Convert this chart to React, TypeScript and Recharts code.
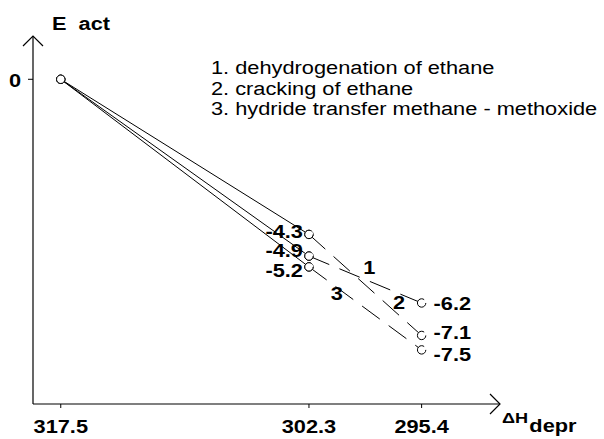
import { LineChart, Line, XAxis, YAxis, LabelList, ReferenceDot, Legend } from "recharts";

/* data */
const reactions = [
  "dehydrogenation of ethane",
  "cracking of ethane",
  "hydride transfer methane - methoxide",
];
const lineNumbers = ["1", "2", "3"];
const xTicks = [317.5, 302.3, 295.4];   // ΔH_depr
const yTicks = [0];
const eStart = [0, 0, 0];
const eMid = [-4.9, -4.3, -5.2];
const eEnd = [-6.2, -7.1, -7.5];

/* label placement (styling only) */
const midNudge = [-3, 0, 6];
const endNudge = [0, -3, 4];
const numberAt = [0.5, 0.8, 0.3];
const numberOffset = [[4, 6], [0, 6], [-6, 20]];

const FONT = "'Liberation Sans', Arial, sans-serif";
const SX = 1.21; // the scan is stretched sideways

function Txt({ x, y, anchor = "start", size = 18, bold = true, children }: any) {
  return (
    <text
      transform={`translate(${x},${y}) scale(${SX},1)`}
      textAnchor={anchor}
      fontFamily={FONT}
      fontWeight={bold ? "bold" : "normal"}
      fontSize={size}
      fill="#000"
      style={{ whiteSpace: "pre" }}
    >
      {children}
    </text>
  );
}

const solid = reactions.map((_, i) => [
  { x: xTicks[0], y: eStart[i] },
  { x: xTicks[1], y: eMid[i] },
]);
const dashed = reactions.map((_, i) => [
  { x: xTicks[1], y: eMid[i] },
  { x: xTicks[2], y: eEnd[i] },
]);

const dotStyle = { r: 4.2, fill: "#fff", stroke: "#000", strokeWidth: 1 };

const XTick = (p: any) => (
  <Txt x={p.x} y={p.y + 23} anchor="middle">{p.payload.value}</Txt>
);
const YTick = (p: any) => (
  <Txt x={21} y={p.y + 8} anchor="end">{p.payload.value}</Txt>
);

function LegendBox() {
  return (
    <div
      style={{
        fontFamily: FONT,
        fontSize: 18,
        lineHeight: "20.5px",
        whiteSpace: "nowrap",
        transform: `scaleX(${SX})`,
        transformOrigin: "left top",
        color: "#000",
      }}
    >
      {reactions.map((r, i) => (
        <div key={r}>{`${lineNumbers[i]}. ${r}`}</div>
      ))}
    </div>
  );
}

export default function App() {
  return (
    <div style={{ position: "absolute", left: 0, top: 0, width: 604, height: 439, background: "#fff" }}>
      <svg width={0} height={0} style={{ position: "absolute" }}>
        <defs>
          <marker
            id="arrowHead"
            viewBox="0 0 12 22"
            refX={11}
            refY={11}
            markerWidth={12}
            markerHeight={22}
            markerUnits="userSpaceOnUse"
            orient="auto-start-reverse"
          >
            <path d="M1,1 L11,11 L1,21" fill="none" stroke="#000" strokeWidth={1.2} />
          </marker>
        </defs>
      </svg>
      <LineChart width={604} height={439} margin={{ top: 36, right: 104, bottom: 0, left: 0 }}>
        <XAxis
          type="number"
          dataKey="x"
          domain={[290.6, 319.2]}
          allowDataOverflow
          reversed
          ticks={xTicks}
          interval={0}
          height={35}
          tickSize={4}
          tickLine={{ stroke: "#000" }}
          axisLine={{ stroke: "#000", strokeWidth: 1.2, markerEnd: "url(#arrowHead)" }}
          tick={<XTick />}
          label={{
            content: ({ viewBox }: any) => (
              <text
                transform={`translate(${viewBox.x + viewBox.width + 2},${viewBox.y + 19}) scale(${SX},1)`}
                fontFamily={FONT}
                fontWeight="bold"
                fill="#000"
              >
                <tspan fontSize={15}>ΔH</tspan>
                <tspan fontSize={18} dy={9} dx={1}>depr</tspan>
              </text>
            ),
          }}
        />
        <YAxis
          type="number"
          dataKey="y"
          domain={[-9, 1.2]}
          allowDataOverflow
          ticks={yTicks}
          width={33}
          tickSize={5}
          tickLine={{ stroke: "#000" }}
          axisLine={{ stroke: "#000", strokeWidth: 1.2, markerStart: "url(#arrowHead)" }}
          tick={<YTick />}
          label={{
            content: ({ viewBox }: any) => (
              <Txt x={viewBox.x + viewBox.width + 19} y={viewBox.y - 6}>{"E  act"}</Txt>
            ),
          }}
        />
        <Legend
          layout="vertical"
          align="center"
          verticalAlign="middle"
          wrapperStyle={{ left: 211, top: 58, width: 390 }}
          content={() => <LegendBox />}
        />

        {solid.map((d, i) => (
          <Line
            key={`s${i}`}
            data={d}
            dataKey="y"
            name={reactions[i]}
            stroke="#000"
            strokeWidth={1}
            dot={dotStyle}
            activeDot={false}
            isAnimationActive={false}
          />
        ))}

        {dashed.map((d, i) => (
          <Line
            key={`d${i}`}
            data={d}
            dataKey="y"
            legendType="none"
            stroke="#000"
            strokeWidth={1}
            strokeDasharray="22 11"
            dot={dotStyle}
            activeDot={false}
            isAnimationActive={false}
          >
            <LabelList
              dataKey="y"
              content={(p: any) =>
                p.index === 0 ? (
                  <Txt x={p.x - 6} y={p.y + 4 + midNudge[i]} anchor="end">{p.value}</Txt>
                ) : (
                  <Txt x={p.x + 12} y={p.y + 7 + endNudge[i]}>{p.value}</Txt>
                )
              }
            />
          </Line>
        ))}

        {dashed.map((d, i) => (
          <ReferenceDot
            key={`n${i}`}
            x={d[0].x + numberAt[i] * (d[1].x - d[0].x)}
            y={d[0].y + numberAt[i] * (d[1].y - d[0].y)}
            r={0}
            ifOverflow="visible"
            shape={(p: any) => (
              <Txt x={p.cx + numberOffset[i][0]} y={p.cy + numberOffset[i][1] - 12} anchor="middle">
                {lineNumbers[i]}
              </Txt>
            )}
          />
        ))}
      </LineChart>
    </div>
  );
}
